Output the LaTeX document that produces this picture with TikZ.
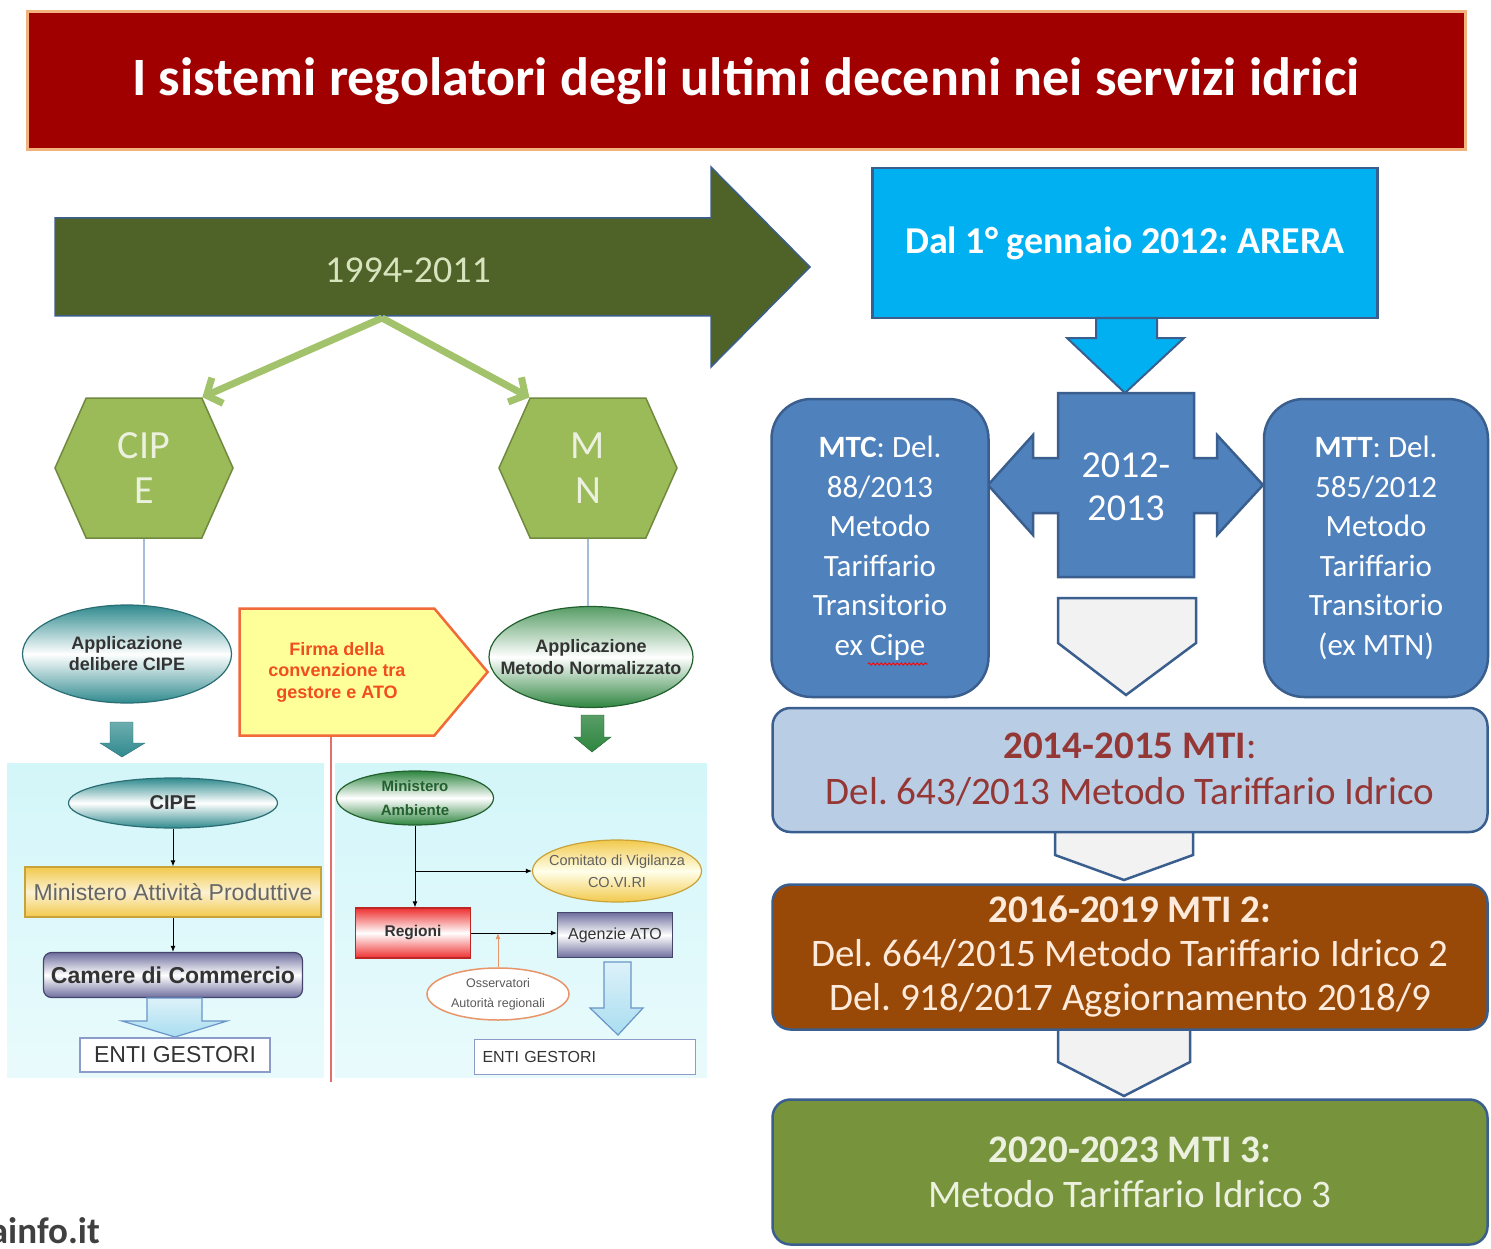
\documentclass[tikz,border=0pt]{standalone}
\usepackage{fontspec}
\setmainfont{Carlito}
\newfontfamily\arialfont{Liberation Sans}
\usetikzlibrary{shapes.geometric,shapes.symbols,arrows.meta,decorations.pathmorphing}
\frenchspacing

\definecolor{titlered}{HTML}{A00000}
\definecolor{titleedge}{HTML}{F2B27E}
\definecolor{erag}{HTML}{4F6228}
\definecolor{eratext}{HTML}{D7E4BD}
\definecolor{forkg}{HTML}{A2C36B}
\definecolor{hexg}{HTML}{9BBB59}
\definecolor{hexbd}{HTML}{71893F}
\definecolor{hextext}{HTML}{EBF1DE}
\definecolor{linkblue}{HTML}{A6BCDC}
\definecolor{arerab}{HTML}{00B0F0}
\definecolor{boxb}{HTML}{4F81BD}
\definecolor{boxbd}{HTML}{3A5F8F}
\definecolor{chevgray}{HTML}{F2F2F2}
\definecolor{mtione}{HTML}{B9CDE5}
\definecolor{mtionetext}{HTML}{953735}
\definecolor{mtitwo}{HTML}{984807}
\definecolor{mtitwotext}{HTML}{FDEADA}
\definecolor{mtithree}{HTML}{77933C}
\definecolor{mtithreetext}{HTML}{EBF1DE}
\definecolor{panel}{HTML}{D3F6F9}
\definecolor{tealdk}{HTML}{2F8A8E}
\definecolor{tealbd}{HTML}{2A6E74}
\definecolor{greendk}{HTML}{2E8540}
\definecolor{greenbd}{HTML}{22602E}
\definecolor{firmafill}{HTML}{FFFF99}
\definecolor{firmaedge}{HTML}{F06A3A}
\definecolor{firmatext}{HTML}{F04E1E}
\definecolor{redline}{HTML}{E07070}
\definecolor{gold}{HTML}{F2C94C}
\definecolor{goldbd}{HTML}{C9A23A}
\definecolor{lilac}{HTML}{6E6E9E}
\definecolor{lilacbd}{HTML}{45456E}
\definecolor{regred}{HTML}{EE3030}
\definecolor{obsedge}{HTML}{E8956A}
\definecolor{entibd}{HTML}{8C9CC8}
\definecolor{blockb}{HTML}{A9DDF0}
\definecolor{blockbd}{HTML}{6A95C8}
\definecolor{flowtext}{HTML}{333333}

\begin{document}
\begin{tikzpicture}[x=1pt, y=-1pt,
	roundbox/.style={rectangle, rounded corners=18, draw=boxbd, line width=2.5, align=center, inner sep=0},
	hexa/.style={signal, signal to=east and west, signal pointer angle=132, minimum width=178, minimum height=140, inner sep=0, fill=hexg, draw=hexbd, line width=1.5, text=hextext, align=center, font=\fontsize{40}{45}\selectfont},
	bubble/.style={ellipse, line width=1.2, inner xsep=-20pt, inner ysep=0pt, align=center, text=flowtext},
	flowbox/.style={rectangle, line width=1.2, inner sep=0, align=center, text=flowtext},
	flow/.style={-{Latex[length=6pt,width=5pt]}, line width=1},
	block/.style={top color=blockb!40!white, bottom color=blockb, draw=blockbd, line width=1.2},
	chevron/.style={fill=chevgray, draw=boxbd, line width=2.5},
	forkarrow/.style={-{Straight Barb[length=12pt,width=28pt]}, forkg, line width=7},
	]
	\useasboundingbox (0,0) rectangle (1491,1249);
	
	% title
	\node (title) [fill=titlered, draw=titleedge, line width=3, minimum width=1438, minimum height=138, text=white, font=\bfseries\fontsize{54}{60}\selectfont] at (746,81) {I sistemi regolatori degli ultimi decenni nei servizi idrici};
	
	% 1994-2011
	\filldraw[fill=erag, draw=boxbd, line width=1.5] (55,218) -- (711,218) -- (711,167) -- (810,267) -- (711,367) -- (711,316) -- (55,316) -- cycle;
	\node (era) [text=eratext, font=\fontsize{38}{45}\selectfont] at (408,270) {1994-2011};
	\coordinate (fork) at (382,318);
	
	\node (cipe) [hexa] at (144,468) {CIP\\E};
	\node (mtn) [hexa] at (588,468) {M\\N};
	\draw[forkarrow] (fork) -- (cipe.north east);
	\draw[forkarrow] (fork) -- (mtn.north west);
	
	% panels
	\shade[top color=panel, bottom color=panel!50!white] (7,763) rectangle (324,1077);
	\shade[top color=panel, bottom color=panel!50!white] (335,763) rectangle (707,1077);
	
	% applications
	\node (appcipe) [bubble, minimum width=209, minimum height=98, top color=tealdk, bottom color=tealdk, middle color=white, draw=tealbd, font=\arialfont\bfseries\fontsize{18}{21}\selectfont] at (127,654) {Applicazione\\delibere CIPE};
	\node (appmtn) [bubble, minimum width=204, minimum height=101, top color=greendk!80, bottom color=greendk, middle color=white, draw=greenbd, font=\arialfont\bfseries\fontsize{18}{22}\selectfont] at (591,657) {Applicazione\\Metodo Normalizzato};
	\draw[linkblue, line width=1.2] (cipe.south) -- (cipe.south |- appcipe.north);
	\draw[linkblue, line width=1.2] (mtn.south) -- (mtn.south |- appmtn.north);
	
	\node (firma) [signal, signal to=east, signal pointer angle=100, minimum width=248, minimum height=127, inner sep=0, fill=firmafill, draw=firmaedge, line width=2.5, text=firmatext, align=center, font=\arialfont\bfseries\fontsize{18}{21.5}\selectfont] at (337,672) {Firma della\\convenzione tra\\gestore e ATO};
	\coordinate (redend) at (331,1082);
	\draw[redline, line width=2] (redend |- firma.south) -- (redend);
	
	\shadedraw[top color=tealdk!70, bottom color=tealdk, draw=tealbd] (110,722) -- (133,722) -- (133,743) -- (145,743) -- (122,757) -- (100,743) -- (110,743) -- cycle;
	\shadedraw[top color=greendk!80, bottom color=greendk, draw=greenbd] (581,715) -- (604,715) -- (604,737) -- (611,737) -- (592,752) -- (574,737) -- (581,737) -- cycle;
	
	% CIPE chain
	\node (cipeb) [bubble, minimum width=209, minimum height=50, top color=tealdk, bottom color=tealdk, middle color=white, draw=tealbd, font=\arialfont\bfseries\fontsize{20}{24}\selectfont] at (173,803) {CIPE};
	\node (minatt) [flowbox, minimum width=296, minimum height=50, top color=gold, bottom color=gold, middle color=gold!25!white, draw=goldbd, text=gray!80!black, font=\arialfont\fontsize{23}{26}\selectfont] at (173,892) {Ministero Attività Produttive};
	\node (camere) [flowbox, rounded corners=8, minimum width=259, minimum height=45, top color=lilac, bottom color=lilac, middle color=white, draw=lilacbd, font=\arialfont\bfseries\fontsize{23}{26}\selectfont] at (173,975) {Camere di Commercio};
	\draw[flow] (cipeb) -- (minatt);
	\draw[flow] (minatt) -- (camere);
	\shadedraw[block] (147,998) -- (202,998) -- (202,1021) -- (227,1021) -- (175,1037) -- (122,1021) -- (147,1021) -- cycle;
	\node (entia) [flowbox, minimum width=190, minimum height=34, fill=white, draw=entibd, font=\arialfont\fontsize{23}{26}\selectfont] at (175,1055) {ENTI GESTORI};
	
	% MTN chain
	\node (minamb) [bubble, minimum width=157, minimum height=54, top color=greendk, bottom color=greendk, middle color=white, draw=greenbd, text=greenbd, font=\arialfont\bfseries\fontsize{15}{24}\selectfont] at (415,798) {Ministero\\Ambiente};
	\node (covir) [bubble, minimum width=169, minimum height=62, top color=gold, bottom color=gold, middle color=yellow!8!white, draw=goldbd, text=gray!75!black, font=\arialfont\fontsize{14.5}{22}\selectfont] at (617,871) {Comitato di Vigilanza\\CO.VI.RI};
	\node (regioni) [flowbox, minimum width=115, minimum height=50, top color=regred, bottom color=regred, middle color=white, draw=regred!80!black, font=\arialfont\bfseries\fontsize{15.5}{18}\selectfont] at (413,933) {Regioni};
	\node (agenzie) [flowbox, minimum width=115, minimum height=45, top color=lilac, bottom color=lilac, middle color=white, draw=lilacbd, font=\arialfont\fontsize{16}{18}\selectfont] at (615,935) {Agenzie ATO};
	\node (osserv) [bubble, minimum width=142, minimum height=52, fill=white, draw=obsedge, line width=1.5, text=gray!70!black, font=\arialfont\fontsize{12.5}{20}\selectfont] at (498,994) {Osservatori\\Autorità regionali};
	\draw[flow] (minamb.south) -- (minamb.south |- regioni.north);
	\coordinate (branch) at (minamb.south |- covir.west);
	\draw[flow] (branch) -- (covir.west);
	\draw[flow] (regioni.east) -- (regioni.east -| agenzie.west);
	\draw[flow, obsedge] (osserv.north) -- (osserv.north |- regioni.east);
	\shadedraw[block] (604,962) -- (631,962) -- (631,1008) -- (643,1008) -- (618,1035) -- (590,1008) -- (604,1008) -- cycle;
	\node (entib) [flowbox, minimum width=221, minimum height=35, text width=205, align=left, fill=white, draw=entibd, font=\arialfont\fontsize{16}{18}\selectfont] at (585,1057) {ENTI GESTORI};
	
	% ARERA
	\node (arera) [rectangle, fill=arerab, draw=boxbd, line width=2.5, minimum width=505, minimum height=150, text=white, font=\bfseries\fontsize{38}{45}\selectfont] at (1125,243) {Dal 1° gennaio 2012: ARERA};
	\filldraw[fill=arerab, draw=boxbd, line width=2] (1096,318) -- (1157,318) -- (1157,338) -- (1184,338) -- (1125,393) -- (1067,338) -- (1096,338) -- cycle;
	
	% 2012-2013
	\filldraw[fill=boxb, draw=boxbd, line width=2.5] (1058,393) -- (1194,393) -- (1194,458) -- (1217,458) -- (1217,435) -- (1263,485) -- (1217,535) -- (1217,513) -- (1194,513) -- (1194,577) -- (1058,577) -- (1058,513) -- (1033,513) -- (1033,535) -- (988,485) -- (1033,435) -- (1033,458) -- (1058,458) -- cycle;
	\node (years) [text=white, align=center, font=\fontsize{38}{43}\selectfont] at (1126,487) {2012-\\2013};
	\node (mtc) [roundbox, rounded corners=40, minimum width=217, minimum height=298, fill=boxb, text=white, font=\fontsize{31}{39.5}\selectfont] at (880,548) {\textbf{MTC}: Del.\\88/2013\\Metodo\\Tariffario\\Transitorio\\ex Cipe};
	\draw[red, line width=0.8, decorate, decoration={snake, amplitude=1.2pt, segment length=4pt}] (868,664) -- (928,664);
	\node (mtt) [roundbox, rounded corners=40, minimum width=224, minimum height=298, fill=boxb, text=white, font=\fontsize{31}{39.5}\selectfont] at (1376,548) {\textbf{MTT}: Del.\\585/2012\\Metodo\\Tariffario\\Transitorio\\(ex MTN)};
	
	% chevrons
	\filldraw[chevron] (1058,598) -- (1196,598) -- (1196,643) -- (1126,695) -- (1058,643) -- cycle;
	\filldraw[chevron] (1055,826) -- (1193,826) -- (1193,855) -- (1124,880) -- (1055,855) -- cycle;
	\filldraw[chevron] (1058,1025) -- (1190,1025) -- (1190,1062) -- (1124,1096) -- (1058,1062) -- cycle;
	
	% MTI
	\node (mtia) [roundbox, minimum width=715, minimum height=124, fill=mtione, text=mtionetext, font=\fontsize{39}{46}\selectfont] at (1130,770) {\textbf{2014-2015 MTI}:\\Del. 643/2013 Metodo Tariffario Idrico};
	\node (mtib) [roundbox, minimum width=715, minimum height=145, fill=mtitwo, text=mtitwotext, font=\fontsize{39}{44}\selectfont] at (1130,957) {\textbf{2016-2019 MTI 2:}\\Del. 664/2015 Metodo Tariffario Idrico 2\\Del. 918/2017 Aggiornamento 2018/9};
	\node (mtic) [roundbox, minimum width=715, minimum height=145, fill=mtithree, text=mtithreetext, font=\fontsize{39}{45}\selectfont] at (1130,1172) {\textbf{2020-2023 MTI 3:}\\Metodo Tariffario Idrico 3};
	
	% source
	\node (site) [anchor=base east, inner sep=0, text=black!75, font=\bfseries\fontsize{37}{40}\selectfont] at (100,1243) {ainfo.it};
\end{tikzpicture}
\end{document}
